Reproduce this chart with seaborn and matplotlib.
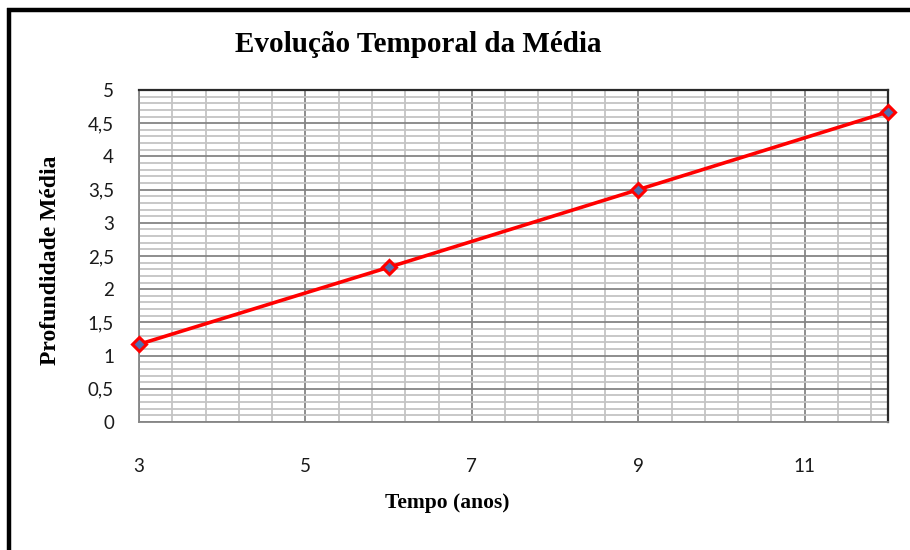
import matplotlib
matplotlib.use("Agg")
import matplotlib.pyplot as plt
import seaborn as sns
import pandas as pd
import numpy as np
from matplotlib.ticker import MultipleLocator, FixedLocator, FuncFormatter
from matplotlib.lines import Line2D

# Data
tempo = [3, 6, 9, 12]
profundidade = [1.17, 2.33, 3.5, 4.67]
title = "Evolução Temporal da Média"
xlabel = "Tempo (anos)"
ylabel = "Profundidade Média"
xticks = [3, 5, 7, 9, 11]
yticks = [0, 0.5, 1, 1.5, 2, 2.5, 3, 3.5, 4, 4.5, 5]

sns.set_theme(style="white")
plt.rcParams['font.family'] = ['Liberation Serif', 'DejaVu Sans']

df = pd.DataFrame({"Tempo": tempo, "Profundidade": profundidade})

fig = plt.figure(figsize=(9.10, 5.50), dpi=100)
ax = fig.add_axes([139/910, 1 - 422/550, (888-139)/910, (422-90)/550])

sns.lineplot(data=df, x="Tempo", y="Profundidade", ax=ax, color="#ff0000",
             linewidth=2.6, marker="D", markersize=7.5,
             markerfacecolor="#4f6fb0", markeredgecolor="#ff0000",
             markeredgewidth=2.2, clip_on=False, zorder=5)

ax.set_xlim(3, 12)
ax.set_ylim(0, 5)

ax.set_xticks(xticks)
ax.xaxis.set_minor_locator(FixedLocator(np.arange(3, 12.001, 0.4)))
ax.set_yticks(yticks)
ax.yaxis.set_minor_locator(MultipleLocator(0.1))
ax.yaxis.set_major_formatter(FuncFormatter(lambda v, p: f"{v:g}".replace(".", ",")))

ax.grid(which="minor", color="#c4c4c4", linewidth=1.3, zorder=0)
ax.grid(which="major", color="#858585", linewidth=1.3, zorder=1)
ax.set_axisbelow(True)

for s in ["left", "bottom"]:
    ax.spines[s].set_color("#858585")
    ax.spines[s].set_linewidth(1.3)
for s in ["top", "right"]:
    ax.spines[s].set_color("#2a2a2a")
    ax.spines[s].set_linewidth(1.6)

ax.tick_params(which="both", length=0)
ax.tick_params(axis="y", pad=18, labelsize=13.5, labelcolor="#1a1a1a")
ax.tick_params(axis="x", pad=26, labelsize=13.5, labelcolor="#1a1a1a")
for lab in ax.get_yticklabels() + ax.get_xticklabels():
    lab.set_fontfamily(["Lato", "DejaVu Sans"])

ax.set_xlabel("")
ax.set_ylabel("")
fig.text(447/910, 1 - 503/550, xlabel, ha="center", va="center", color="black",
         fontsize=15.5, fontweight="bold", family=["Liberation Serif", "DejaVu Sans"])
fig.text(51/910, 1 - 260/550, ylabel, ha="center", va="center", rotation=90, color="black",
         fontsize=17, fontweight="bold", family=["Liberation Serif", "DejaVu Sans"])
fig.text(418/910, 1 - 45/550, title, ha="center", va="center", color="black",
         fontsize=21, fontweight="bold", family=["Liberation Serif", "DejaVu Sans"])

# outer border (top and left visible)
fig.add_artist(Line2D([9/910, 9/910], [0, 1 - 8/550], transform=fig.transFigure,
                      color="black", linewidth=3.2, solid_capstyle="butt"))
fig.add_artist(Line2D([7/910, 1], [1 - 10/550, 1 - 10/550], transform=fig.transFigure,
                      color="black", linewidth=3.2, solid_capstyle="butt"))

fig.savefig("out.png", dpi=100, facecolor="white")
